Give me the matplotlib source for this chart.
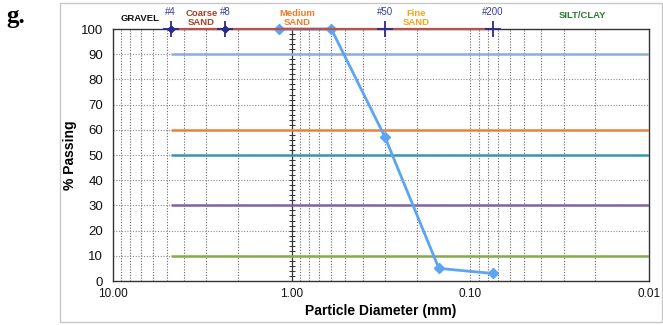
import numpy as np
import matplotlib
matplotlib.use("Agg")
import matplotlib.pyplot as plt
from matplotlib.patches import Rectangle

plt.rcParams['font.family'] = ['Liberation Sans', 'DejaVu Sans']

# Gradation curve (sieve opening in mm vs. percent passing)
diameter_mm = [1.18, 0.6, 0.3, 0.15, 0.075]
percent_passing = [100, 100, 57, 5, 3]

# Sieve markers drawn along the 100 % line
sieve_names = ["#4", "#8", "#50", "#200"]
sieve_sizes = [4.75, 2.36, 0.3, 0.075]

# Reference levels (D90, D60, D50, D30, D10)
ref_levels = [90, 60, 50, 30, 10]
ref_colors = ["#8EABDD", "#E8823C", "#3A95AC", "#7E64A0", "#86AA4C"]

# Soil class labels across the top
class_labels = ["GRAVEL", "Coarse\nSAND", "Medium\nSAND", "Fine\nSAND", "SILT/CLAY"]
class_colors = ["#111111", "#A0442A", "#F07A28", "#F5A21E", "#2A7A30"]
class_x = [7.1, 3.2, 0.93, 0.2, 0.0237]
class_y = [1.04, 1.045, 1.045, 1.045, 1.055]

x_ticks = [10, 1, 0.1, 0.01]
x_tick_labels = ["10.00", "1.00", "0.10", "0.01"]
y_ticks = list(range(0, 101, 10))

fig = plt.figure(figsize=(6.63, 3.25), dpi=100)
ax = fig.add_axes([113 / 663, 1 - 281 / 325, (649 - 113) / 663, (281 - 29) / 325])

# Chart border
fig.patches.append(Rectangle((60 / 663, 3 / 325), 602 / 663, 319 / 325,
                             transform=fig.transFigure, fill=False,
                             edgecolor="#C8C8C8", linewidth=1.0, zorder=0))

ax.set_xscale("log")
ax.set_xlim(10, 0.01)
ax.set_ylim(0, 100)

# Grid: dotted lines at every minor decade step and every 10 %
minor_x = [m * 10.0 ** e for e in (-2, -1, 0) for m in range(2, 10)]
for xv in minor_x + [0.1]:
    ax.axvline(xv, color="#666666", linestyle=(0, (1.0, 1.5)), linewidth=0.8, zorder=1)
for yv in range(10, 100, 10):
    ax.axhline(yv, color="#8C8C8C", linestyle=(0, (1.0, 1.5)), linewidth=0.8, zorder=1)

# Vertical axis line crossing at 1.0 mm with minor ticks
ax.axvline(1.0, color="#333333", linewidth=0.9, zorder=2)
ax.plot([1.0] * 49, list(range(2, 100, 2)), linestyle="none", marker="_",
        markersize=5, markeredgewidth=0.7, color="#333333", zorder=2)

# Reference level lines from the #4 sieve to the fine end
for lvl, col in zip(ref_levels, ref_colors):
    ax.plot([sieve_sizes[0], 0.01], [lvl, lvl], color=col, linewidth=1.8,
            solid_capstyle="butt", zorder=3)

# Gradation curve
ax.plot(diameter_mm, percent_passing, color="#5DA5F2", linewidth=2.0,
        marker="D", markersize=5, zorder=4, clip_on=False)

# 100 % line between the #4 and #200 sieves
ax.plot([sieve_sizes[0], sieve_sizes[-1]], [100, 100], color="#B5534E",
        linewidth=1.6, zorder=5, clip_on=False)

# Sieve markers and labels
ax.plot(sieve_sizes, [100] * len(sieve_sizes), linestyle="none", marker="+",
        markersize=11, markeredgewidth=1.3, color="#2B2B8C", zorder=6, clip_on=False)
ax.plot(sieve_sizes[:2], [100, 100], linestyle="none", marker="D",
        markersize=3.5, color="#2B2B8C", zorder=6, clip_on=False)
for name, s in zip(sieve_names, sieve_sizes):
    ax.annotate(name, xy=(s, 1.068), xycoords=("data", "axes fraction"),
                ha="center", va="center", fontsize=7, color="#3C3C9C")

for lab, col, xv, yv in zip(class_labels, class_colors, class_x, class_y):
    ax.annotate(lab, xy=(xv, yv), xycoords=("data", "axes fraction"),
                ha="center", va="center", fontsize=6.8, fontweight="bold",
                color=col, linespacing=1.0)

ax.set_xticks(x_ticks)
ax.set_xticklabels(x_tick_labels)
ax.xaxis.set_minor_locator(matplotlib.ticker.NullLocator())
ax.set_yticks(y_ticks)
ax.tick_params(axis="both", length=0, colors="#111111")
ax.tick_params(axis="x", pad=5, labelsize=8.5)
ax.tick_params(axis="y", pad=7, labelsize=9.5)

for sp in ax.spines.values():
    sp.set_color("#333333")
    sp.set_linewidth(1.0)

ax.set_xlabel("Particle Diameter (mm)", fontsize=10, fontweight="bold", labelpad=3)
ax.set_ylabel("% Passing", fontsize=10, fontweight="bold", labelpad=3)

fig.text(6 / 663, 1 - 17 / 325, "g.", fontsize=18, fontweight="bold",
         family=["Liberation Serif", "DejaVu Serif"], va="center", ha="left")

fig.savefig("out.png", dpi=100)
